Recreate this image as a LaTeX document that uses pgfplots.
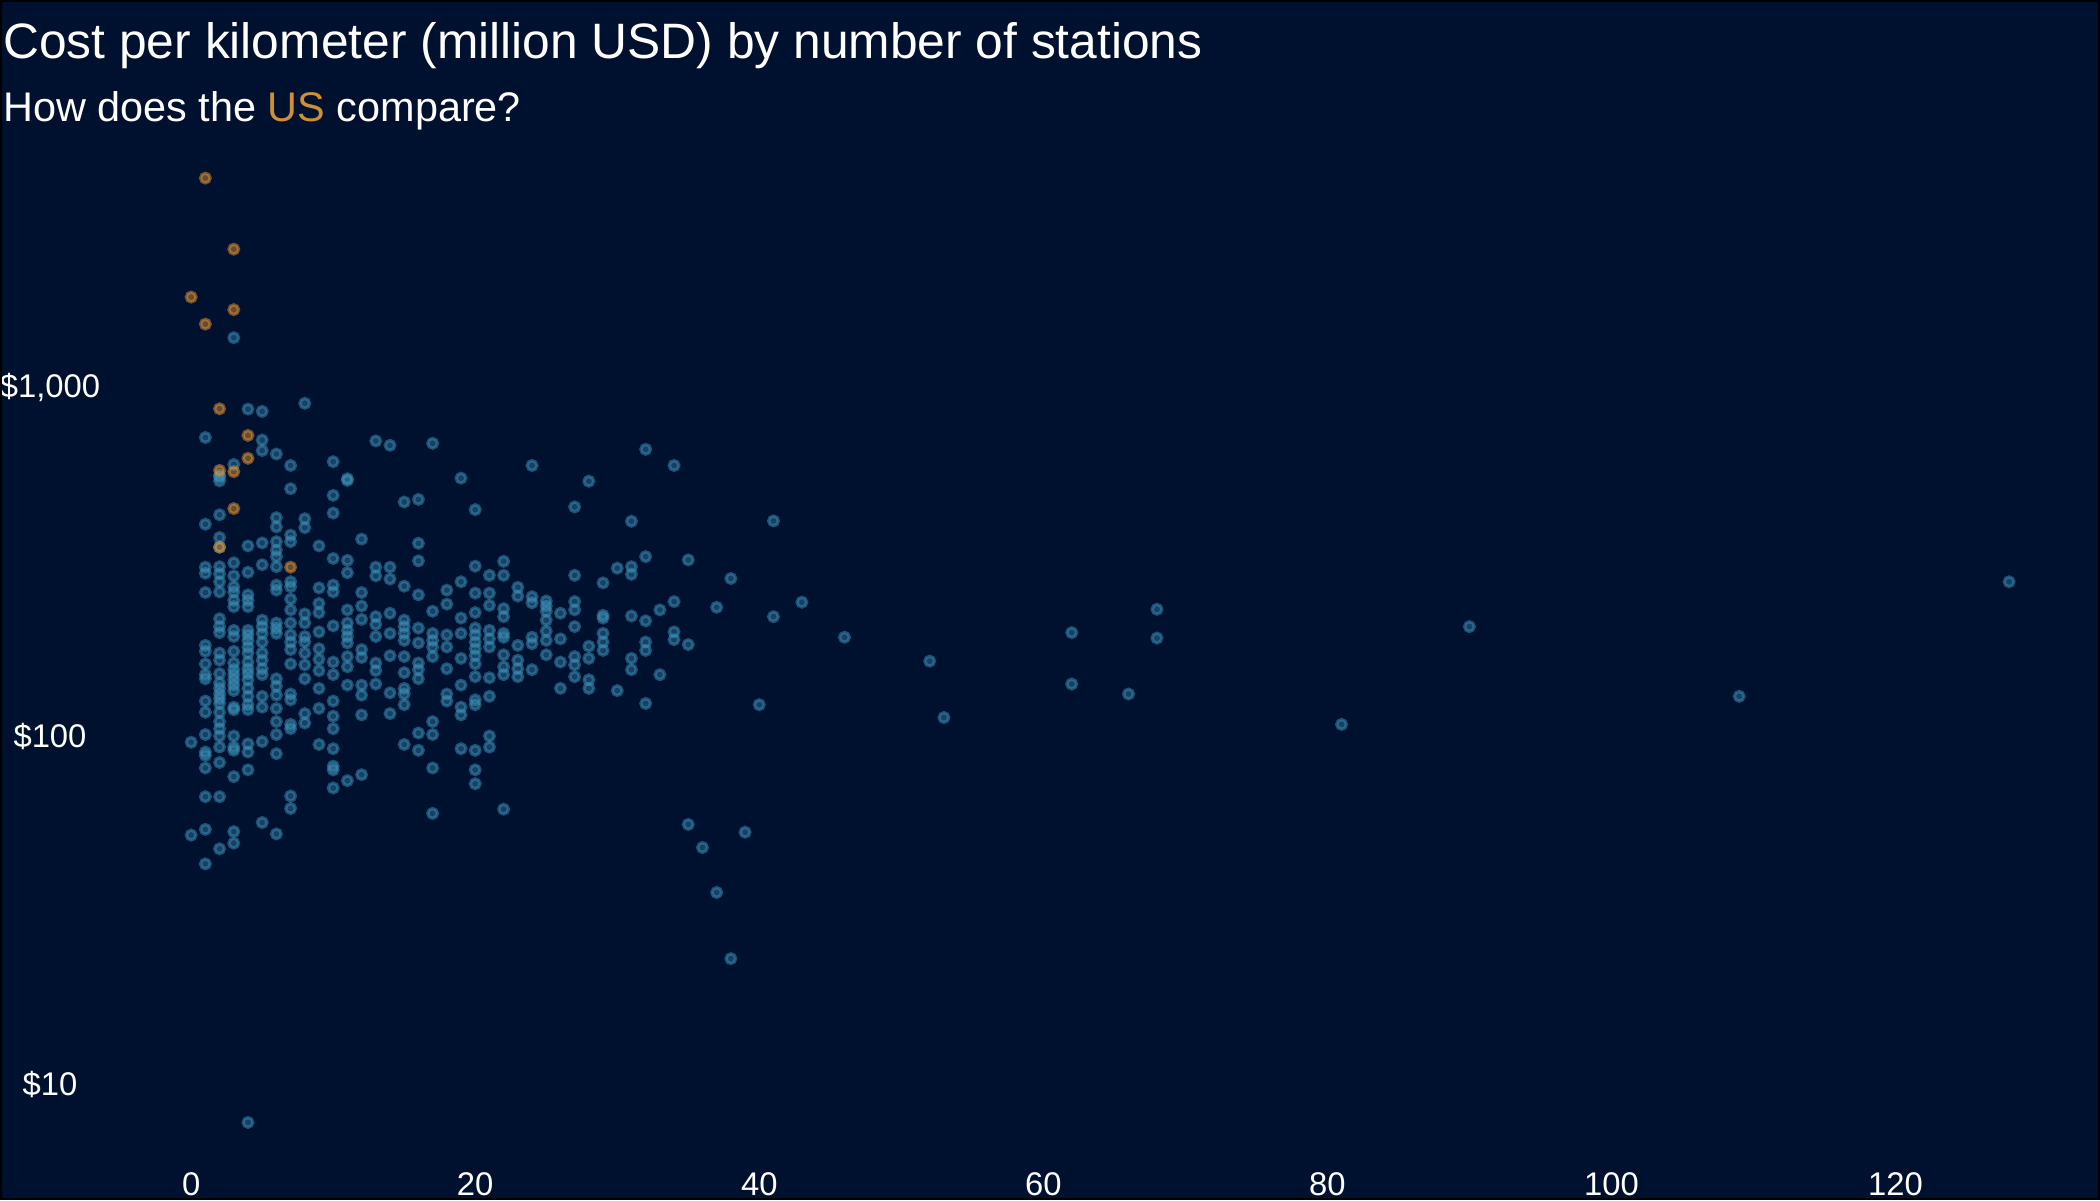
\documentclass[border=0pt]{standalone}
\usepackage{pgfplots}
\pgfplotsset{compat=1.18}
\usepackage{fontspec}
\setmainfont{Liberation Sans}
\definecolor{bg}{RGB}{0,17,48}
\definecolor{ptblue}{RGB}{60,145,185}
\definecolor{ptorange}{RGB}{230,150,50}
\definecolor{usorange}{RGB}{208,143,53}
\begin{document}
\begin{tikzpicture}
\fill[bg] (0,0) rectangle (756pt,432pt);
\node[anchor=base west, inner sep=0pt, text=white, font=\fontsize{17.9}{21}\selectfont] at (1pt,410.8pt) {Cost per kilometer (million USD) by number of stations};
\node[anchor=base west, inner sep=0pt, text=white, font=\fontsize{14.9}{17}\selectfont] at (1pt,388.1pt) {How does the \textcolor{usorange}{US} compare?};
\begin{axis}[
  at={(36.1pt,11.5pt)}, anchor=south west,
  scale only axis, width=719.9pt, height=373.7pt,
  xmin=-6.4, xmax=134.4,
  ymode=log, ymin=5.77, ymax=5470,
  axis line style={draw=none},
  major tick length=0pt, minor tick length=0pt,
  tick style={draw=none}, minor tick style={draw=none},
  minor ytick={}, minor xtick={},
  xtick={0,20,40,60,80,100,120},
  ytick={10,100,1000},
  yticklabels={\$10,\$100,{\$1,000}},
  /pgf/number format/assume math mode=true,
  ticklabel style={text=white, font=\fontsize{11.8}{13}\selectfont},
  xticklabel style={anchor=center, yshift=-5.7pt},
  yticklabel style={anchor=center, xshift=-18.1pt},
  clip=false,
]
\addplot[only marks, mark=*, mark size=1.75pt, line width=1.15pt,
  mark options={draw=ptblue, fill=ptblue, draw opacity=0.5, fill opacity=0.38}]
  table[row sep=\\] {
x y\\
0 96\\ 0 52\\
1 718\\ 1 405\\ 1 305\\ 1 293\\ 1 258\\ 1 182\\ 1 175\\ 1 161\\ 1 150\\ 1 146\\ 1 126\\ 1 117\\ 1 101\\ 1 90\\ 1 88\\ 1 81\\ 1 67\\ 1 54\\ 1 43\\
2 560\\ 2 553\\ 2 539\\ 2 431\\ 2 371\\ 2 348\\ 2 306\\ 2 292\\ 2 277\\ 2 259\\ 2 217\\ 2 206\\ 2 198\\ 2 173\\ 2 165\\ 2 151\\ 2 142\\ 2 137\\ 2 132\\ 2 128\\ 2 124\\ 2 117\\ 2 110\\ 2 105\\ 2 100\\ 2 93\\ 2 84\\ 2 67\\ 2 47.5\\
3 1388\\ 3 601\\ 3 314\\ 3 288\\ 3 268\\ 3 259\\ 3 245\\ 3 235\\ 3 201\\ 3 193\\ 3 175\\ 3 162\\ 3 155\\ 3 150\\ 3 145\\ 3 140\\ 3 135\\ 3 121\\ 3 119\\ 3 100\\ 3 93\\ 3 91\\ 3 76.5\\ 3 53.2\\ 3 49.3\\
4 866\\ 4 351\\ 4 295\\ 4 254\\ 4 245\\ 4 235\\ 4 201\\ 4 195\\ 4 188\\ 4 180\\ 4 173\\ 4 163\\ 4 156\\ 4 151\\ 4 145\\ 4 137\\ 4 130\\ 4 123\\ 4 119\\ 4 95\\ 4 90\\ 4 80\\ 4 7.8\\
5 853\\ 5 706\\ 5 659\\ 5 358\\ 5 310\\ 5 215\\ 5 206\\ 5 197\\ 5 186\\ 5 173\\ 5 165\\ 5 156\\ 5 150\\ 5 130\\ 5 121\\ 5 96.4\\ 5 56.5\\
6 644\\ 6 423\\ 6 398\\ 6 361\\ 6 341\\ 6 327\\ 6 306\\ 6 271\\ 6 262\\ 6 211\\ 6 204\\ 6 197\\ 6 146\\ 6 139\\ 6 131\\ 6 120\\ 6 110\\ 6 101\\ 6 89\\ 6 52.4\\
7 597\\ 7 512\\ 7 377\\ 7 361\\ 7 277\\ 7 268\\ 7 247\\ 7 230\\ 7 211\\ 7 195\\ 7 186\\ 7 177\\ 7 161\\ 7 132\\ 7 127\\ 7 108\\ 7 105\\ 7 67.3\\ 7 62\\
8 900\\ 8 420\\ 8 396\\ 8 224\\ 8 211\\ 8 193\\ 8 186\\ 8 173\\ 8 160\\ 8 146\\ 8 116\\ 8 109\\
9 351\\ 9 266\\ 9 240\\ 9 226\\ 9 199\\ 9 178\\ 9 166\\ 9 154\\ 9 137\\ 9 120\\ 9 94.6\\
10 612\\ 10 490\\ 10 436\\ 10 323\\ 10 271\\ 10 259\\ 10 207\\ 10 163\\ 10 150\\ 10 126\\ 10 114\\ 10 105\\ 10 92\\ 10 82\\ 10 80\\ 10 71\\
11 547\\ 11 541\\ 11 319\\ 11 294\\ 11 230\\ 11 211\\ 11 201\\ 11 193\\ 11 185\\ 11 169\\ 11 158\\ 11 140\\ 11 74.5\\
12 367\\ 12 258\\ 12 236\\ 12 216\\ 12 177\\ 12 168\\ 12 140\\ 12 131\\ 12 115\\ 12 77.5\\
13 702\\ 13 305\\ 13 288\\ 13 220\\ 13 209\\ 13 193\\ 13 162\\ 13 154\\ 13 141\\
14 682\\ 14 305\\ 14 282\\ 14 225\\ 14 197\\ 14 170\\ 14 133\\ 14 116\\
15 469\\ 15 269\\ 15 215\\ 15 206\\ 15 197\\ 15 188\\ 15 169\\ 15 152\\ 15 137\\ 15 132\\ 15 123\\ 15 94.6\\
16 477\\ 16 357\\ 16 318\\ 16 254\\ 16 204\\ 16 185\\ 16 162\\ 16 155\\ 16 146\\ 16 102\\ 16 91\\
17 691\\ 17 228\\ 17 197\\ 17 188\\ 17 180\\ 17 169\\ 17 110\\ 17 101\\ 17 81\\ 17 60\\
18 262\\ 18 239\\ 18 195\\ 18 180\\ 18 156\\ 18 132\\ 18 126\\
19 549\\ 19 277\\ 19 218\\ 19 197\\ 19 167\\ 19 140\\ 19 121\\ 19 115\\ 19 92\\
20 446\\ 20 307\\ 20 257\\ 20 226\\ 20 204\\ 20 195\\ 20 186\\ 20 178\\ 20 170\\ 20 161\\ 20 148\\ 20 127\\ 20 123\\ 20 91\\ 20 80\\ 20 73\\
21 289\\ 21 257\\ 21 237\\ 21 201\\ 21 190\\ 21 180\\ 21 147\\ 21 130\\ 21 100\\ 21 93\\
22 317\\ 22 289\\ 22 232\\ 22 220\\ 22 197\\ 22 192\\ 22 171\\ 22 158\\ 22 150\\ 22 61.7\\
23 267\\ 23 252\\ 23 182\\ 23 165\\ 23 156\\ 23 148\\
24 597\\ 24 251\\ 24 241\\ 24 192\\ 24 184\\ 24 155\\
25 244\\ 25 236\\ 25 228\\ 25 215\\ 25 200\\ 25 188\\ 25 171\\
26 225\\ 26 190\\ 26 163\\ 26 137\\
27 454\\ 27 289\\ 27 243\\ 27 230\\ 27 206\\ 27 169\\ 27 160\\ 27 148\\
28 538\\ 28 181\\ 28 167\\ 28 145\\ 28 137\\
29 275\\ 29 222\\ 29 218\\ 29 197\\ 29 186\\ 29 176\\
30 303\\ 30 135\\
31 413\\ 31 306\\ 31 291\\ 31 221\\ 31 167\\ 31 155\\
32 664\\ 32 327\\ 32 214\\ 32 186\\ 32 176\\ 32 124\\
33 230\\ 33 150\\
34 597\\ 34 243\\ 34 199\\ 34 189\\
35 320\\ 35 183\\ 35 55.8\\
36 47.9\\
37 234\\ 37 35.6\\
38 283\\ 38 23\\
39 53\\
40 123\\
41 414\\ 41 220\\
43 242\\
46 192\\
52 164\\
53 113\\
62 198\\ 62 141\\
66 132\\
68 231\\ 68 191\\
81 108\\
90 206\\
109 130\\
128 277\\
};
\addplot[only marks, mark=*, mark size=1.75pt, line width=1.15pt,
  mark options={draw=ptorange, fill=ptorange, draw opacity=0.5, fill opacity=0.45}]
  table[row sep=\\] {
x y\\
0 1815\\
1 3981\\ 1 1518\\
2 868\\ 2 578\\ 2 348\\
3 2490\\ 3 1670\\ 3 573\\ 3 449\\
4 728\\ 4 626\\
7 305\\
};
\end{axis}
\draw[black, line width=0.72pt] (0.36pt,0.36pt) rectangle (755.64pt,431.64pt);
\pgfresetboundingbox
\useasboundingbox (0,0) rectangle (756pt,432pt);
\end{tikzpicture}
\end{document}
